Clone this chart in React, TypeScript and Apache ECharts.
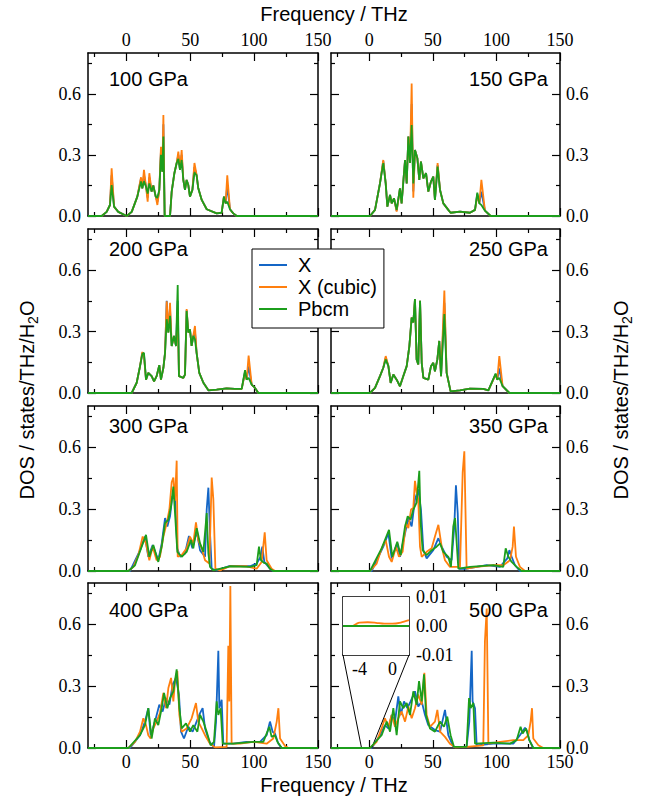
import React, { useEffect, useRef } from 'react';
import * as echarts from 'echarts';

// ---------------- data ----------------
// 100 GPa
const freq100 = [-30, -19.3, -15.4, -12.8, -11.5, -9.6, -6.3, 0.3, 4.2, 8.6, 11.5, 12.5, 13.8, 15.4, 16.7, 18, 19.8, 21.1, 23, 24.3, 25.8, 27.1, 28.2, 29, 30, 34.2, 35.5, 37.6, 39.4, 40.7, 42, 43.3, 44.6, 45.9, 47.2, 48.5, 49.8, 51.7, 53.3, 55, 56.3, 59, 62.9, 70.7, 74.6, 76.4, 77.7, 79, 81.1, 83.7, 86.4, 150];
const x100 = [0, 0, 0.02, 0.054, 0.2, 0.046, 0.02, 0, 0.02, 0.095, 0.185, 0.136, 0.2, 0.144, 0.09, 0.19, 0.12, 0.15, 0.095, 0.07, 0.128, 0.32, 0.218, 0.45, 0, 0, 0.12, 0.21, 0.26, 0.3, 0.226, 0.3, 0.177, 0.128, 0.177, 0.152, 0.095, 0.128, 0.24, 0.2, 0.136, 0.079, 0.033, 0.013, 0.016, 0.095, 0.062, 0.15, 0.033, 0.013, 0, 0];
const xc100 = [0, 0, 0.02, 0.054, 0.234, 0.046, 0.02, 0, 0.02, 0.095, 0.19, 0.136, 0.226, 0.144, 0.07, 0.21, 0.12, 0.15, 0.095, 0.054, 0.128, 0.34, 0.218, 0.496, 0, 0, 0.12, 0.21, 0.26, 0.316, 0.226, 0.324, 0.177, 0.128, 0.177, 0.152, 0.095, 0.128, 0.26, 0.2, 0.136, 0.079, 0.033, 0.013, 0.016, 0.095, 0.062, 0.2, 0.033, 0.013, 0, 0];
const pb100 = [0, 0, 0.02, 0.054, 0.152, 0.046, 0.02, 0, 0.02, 0.095, 0.17, 0.136, 0.17, 0.144, 0.11, 0.16, 0.12, 0.15, 0.095, 0.09, 0.128, 0.3, 0.218, 0.39, 0, 0, 0.12, 0.21, 0.26, 0.28, 0.226, 0.275, 0.177, 0.128, 0.177, 0.152, 0.095, 0.128, 0.213, 0.2, 0.136, 0.079, 0.033, 0.013, 0.016, 0.095, 0.062, 0.07, 0.033, 0.013, 0, 0];

// 150 GPa
const freq150 = [-30, 0.65, 4.6, 8.5, 11.1, 13, 14.3, 16.4, 17.7, 19.5, 21.6, 24.2, 25.5, 28.2, 29.5, 30.8, 32.1, 33.4, 34.7, 36, 37.9, 39.4, 40.7, 42.6, 44.7, 46.5, 48.6, 50.4, 51.7, 53.8, 55.7, 58.3, 62.2, 64, 71.4, 79.2, 83.2, 85, 86.6, 88.2, 91, 95.5, 150];
const x150 = [0, 0, 0.03, 0.16, 0.27, 0.16, 0.046, 0.103, 0.062, 0.087, 0.026, 0.136, 0.062, 0.275, 0.16, 0.39, 0.26, 0.55, 0.12, 0.324, 0.283, 0.177, 0.267, 0.185, 0.21, 0.12, 0.169, 0.193, 0.079, 0.25, 0.128, 0.062, 0.03, 0.016, 0.021, 0.016, 0.03, 0.108, 0.062, 0.12, 0.026, 0, 0];
const xc150 = [0, 0, 0.03, 0.16, 0.275, 0.16, 0.046, 0.103, 0.062, 0.087, 0.022, 0.136, 0.062, 0.275, 0.16, 0.39, 0.26, 0.65, 0.09, 0.324, 0.283, 0.177, 0.267, 0.185, 0.21, 0.12, 0.169, 0.193, 0.079, 0.26, 0.128, 0.062, 0.03, 0.016, 0.021, 0.016, 0.03, 0.1, 0.062, 0.177, 0.026, 0, 0];
const pb150 = [0, 0, 0.03, 0.16, 0.26, 0.16, 0.046, 0.103, 0.062, 0.087, 0.03, 0.136, 0.062, 0.275, 0.16, 0.39, 0.26, 0.447, 0.16, 0.324, 0.283, 0.177, 0.267, 0.185, 0.21, 0.12, 0.169, 0.193, 0.079, 0.242, 0.128, 0.062, 0.03, 0.016, 0.021, 0.016, 0.03, 0.115, 0.062, 0.054, 0.026, 0, 0];

// 200 GPa
const freq200 = [-30, 4.2, 8.1, 10.7, 12.5, 13.8, 15.4, 17.2, 19.8, 21.7, 23.7, 25.8, 27.1, 29, 30.3, 31.6, 32.9, 34.2, 35.5, 37.3, 38.9, 40.2, 41.2, 44.6, 45.9, 47.2, 48.5, 49.8, 51.1, 52.4, 53.7, 55, 57.1, 60.3, 64.2, 70.7, 78.5, 85, 90.3, 92.9, 94.2, 95.7, 98.1, 100.7, 103.3, 150];
const x200 = [0, 0, 0.05, 0.13, 0.195, 0.19, 0.065, 0.098, 0.082, 0.057, 0.082, 0.136, 0.065, 0.123, 0.196, 0.45, 0.295, 0.41, 0.229, 0.278, 0.229, 0.45, 0.082, 0.074, 0.09, 0.405, 0.295, 0.31, 0.23, 0.278, 0.3, 0.196, 0.098, 0.05, 0.013, 0.016, 0.023, 0.02, 0.02, 0.105, 0.065, 0.13, 0.041, 0.025, 0, 0];
const xc200 = [0, 0, 0.05, 0.13, 0.2, 0.18, 0.065, 0.098, 0.082, 0.057, 0.082, 0.136, 0.065, 0.123, 0.196, 0.447, 0.295, 0.44, 0.229, 0.278, 0.229, 0.39, 0.082, 0.074, 0.09, 0.41, 0.295, 0.31, 0.23, 0.278, 0.327, 0.196, 0.098, 0.05, 0.013, 0.016, 0.023, 0.02, 0.02, 0.1, 0.065, 0.183, 0.041, 0.025, 0, 0];
const pb200 = [0, 0, 0.05, 0.13, 0.19, 0.196, 0.065, 0.098, 0.082, 0.057, 0.082, 0.136, 0.065, 0.123, 0.196, 0.36, 0.295, 0.376, 0.229, 0.278, 0.229, 0.527, 0.082, 0.074, 0.09, 0.4, 0.295, 0.31, 0.23, 0.278, 0.262, 0.196, 0.098, 0.05, 0.013, 0.016, 0.023, 0.02, 0.02, 0.111, 0.065, 0.074, 0.041, 0.025, 0, 0];

// 250 GPa
const freq250 = [-30, 0.65, 4.6, 8.5, 11.1, 13, 15.1, 16.9, 19, 21.6, 24.2, 26.8, 29.5, 31.6, 33.4, 34.7, 36, 37.3, 38.6, 40, 41.3, 42.6, 46.5, 48.6, 50.4, 51.7, 53.6, 55.1, 56.5, 59.1, 60.9, 64, 71.4, 79.2, 89.7, 93.7, 99.4, 100.7, 102.3, 104.9, 110.2, 150];
const x250 = [0, 0, 0.025, 0.082, 0.123, 0.172, 0.131, 0.049, 0.09, 0.065, 0.033, 0.082, 0.131, 0.229, 0.368, 0.344, 0.458, 0.164, 0.139, 0.45, 0.147, 0.074, 0.065, 0.131, 0.147, 0.106, 0.164, 0.254, 0.082, 0.44, 0.098, 0.008, 0.013, 0.021, 0.02, 0.013, 0.092, 0.065, 0.12, 0.033, 0, 0];
const xc250 = [0, 0, 0.025, 0.082, 0.123, 0.18, 0.131, 0.049, 0.09, 0.065, 0.033, 0.082, 0.131, 0.229, 0.368, 0.344, 0.458, 0.164, 0.139, 0.45, 0.147, 0.074, 0.065, 0.131, 0.147, 0.106, 0.164, 0.254, 0.082, 0.5, 0.098, 0.008, 0.013, 0.021, 0.02, 0.013, 0.09, 0.065, 0.18, 0.033, 0, 0];
const pb250 = [0, 0, 0.025, 0.082, 0.123, 0.164, 0.131, 0.049, 0.09, 0.065, 0.033, 0.082, 0.131, 0.229, 0.368, 0.344, 0.458, 0.164, 0.139, 0.45, 0.147, 0.074, 0.065, 0.131, 0.147, 0.106, 0.164, 0.254, 0.082, 0.385, 0.098, 0.008, 0.013, 0.021, 0.02, 0.013, 0.095, 0.065, 0.074, 0.033, 0, 0];

// 300 GPa  [frequency, DOS]
const x300 = [[-30, 0], [2.9, 0], [10.7, 0.1], [14.6, 0.167], [17.2, 0.069], [20.6, 0.126], [25, 0.052], [27.7, 0.134], [30.3, 0.257], [32.1, 0.216], [34.2, 0.265], [36, 0.363], [38.1, 0.347], [39.9, 0.11], [42, 0.069], [45.9, 0.085], [49, 0.17], [51.7, 0.11], [55.1, 0.191], [57.7, 0.1], [61.6, 0.069], [62.9, 0.298], [64.2, 0.404], [65.5, 0.183], [66.8, 0.011], [70.7, 0.003], [81.1, 0.025], [96.8, 0.023], [102, 0.036], [105.1, 0.069], [106.4, 0.118], [108, 0.044], [112.4, 0.011], [115, 0], [150, 0]];
const xc300 = [[-30, 0], [1.6, 0], [5.5, 0.02], [9.4, 0.077], [12.8, 0.167], [15.4, 0.134], [18, 0.052], [20.6, 0.118], [23.7, 0.052], [26.3, 0.069], [29, 0.167], [31.6, 0.232], [33.7, 0.298], [35.5, 0.43], [36.8, 0.453], [38.1, 0.34], [39.4, 0.535], [40.2, 0.069], [43.3, 0.077], [47.2, 0.11], [49.8, 0.167], [52.4, 0.134], [54.5, 0.236], [56.3, 0.15], [59, 0.11], [61.6, 0.052], [65, 0.036], [66.8, 0.453], [68.1, 0.347], [69.7, 0.011], [73.3, 0.003], [81.1, 0.023], [94.2, 0.023], [102, 0.011], [105.9, 0.044], [108.3, 0.187], [109.8, 0.052], [113.7, 0.011], [116.4, 0], [150, 0]];
const pb300 = [[-30, 0], [1.6, 0], [6.8, 0.028], [12, 0.118], [15.4, 0.175], [18, 0.069], [21.1, 0.126], [25, 0.044], [27.7, 0.118], [30.3, 0.232], [32.9, 0.249], [35, 0.314], [36.8, 0.409], [38.1, 0.281], [39.9, 0.093], [43.3, 0.069], [47.2, 0.093], [50.6, 0.15], [52.4, 0.11], [55.1, 0.208], [57.7, 0.134], [60.3, 0.093], [62.9, 0.281], [64.2, 0.085], [65.5, 0.02], [68.1, 0.003], [81.1, 0.023], [96.8, 0.02], [102, 0.028], [103.8, 0.118], [105.4, 0.052], [107.7, 0.039], [109.8, 0.036], [112.4, 0.011], [115, 0], [150, 0]];

// 350 GPa
const x350 = [[-30, 0], [1.9, 0], [11.1, 0.118], [15.1, 0.183], [17.7, 0.061], [22.1, 0.134], [24.2, 0.069], [28.2, 0.183], [30.8, 0.257], [33.4, 0.216], [36, 0.347], [38.6, 0.396], [40.7, 0.298], [42.6, 0.101], [45.2, 0.061], [50.4, 0.101], [54.4, 0.159], [57, 0.118], [60.9, 0.069], [64.8, 0.052], [66.9, 0.216], [68.2, 0.416], [69.6, 0.281], [70.9, 0.011], [76.6, 0.011], [92.4, 0.028], [102.8, 0.02], [108.6, 0.061], [110.2, 0.101], [112, 0.069], [114.6, 0.028], [118.5, 0], [150, 0]];
const xc350 = [[-30, 0], [0.65, 0], [5.9, 0.036], [9.8, 0.11], [13, 0.15], [15.6, 0.069], [17.7, 0.044], [21.1, 0.118], [23.4, 0.069], [26.3, 0.093], [28.9, 0.232], [30.8, 0.208], [32.9, 0.298], [34.7, 0.306], [36, 0.437], [37.3, 0.38], [38.6, 0.347], [39.95, 0.118], [41.3, 0.069], [45.2, 0.093], [49.1, 0.11], [51.7, 0.167], [54.4, 0.224], [57, 0.118], [59.6, 0.052], [63.5, 0.02], [71.4, 0.02], [73.5, 0.478], [74.8, 0.58], [76.6, 0.011], [84.5, 0.02], [97.6, 0.028], [105.4, 0.028], [110.7, 0.052], [112.8, 0.118], [113.8, 0.216], [115.4, 0.069], [118.5, 0.02], [122.5, 0], [150, 0]];
const pb350 = [[-30, 0], [0.65, 0], [9.8, 0.11], [15.6, 0.2], [18.2, 0.069], [22.1, 0.142], [24.8, 0.077], [28.2, 0.216], [30.3, 0.265], [32.6, 0.249], [34.7, 0.298], [37.3, 0.331], [39.4, 0.486], [40.5, 0.232], [42, 0.101], [45.2, 0.077], [49.1, 0.101], [53, 0.118], [55.7, 0.134], [58.3, 0.093], [62.2, 0.069], [64.3, 0.02], [66.1, 0.216], [67.5, 0.257], [68.8, 0.134], [70.1, 0.011], [79.3, 0.02], [97.6, 0.028], [105.4, 0.02], [107.3, 0.11], [109.4, 0.069], [112, 0.044], [115.9, 0.02], [119.9, 0], [150, 0]];

// 400 GPa
const x400 = [[-30, 0], [2.9, 0], [10.7, 0.062], [14.6, 0.128], [17.2, 0.193], [19, 0.062], [22.4, 0.128], [25.8, 0.21], [28.4, 0.177], [31.1, 0.242], [33.7, 0.21], [36.3, 0.308], [38.9, 0.34], [41.2, 0.259], [42.8, 0.079], [45.1, 0.046], [48.5, 0.103], [51.9, 0.079], [55, 0.128], [57.7, 0.169], [59.7, 0.193], [61.6, 0.095], [65, 0.03], [68.6, 0.005], [70.2, 0.128], [72, 0.471], [72.8, 0.193], [74.6, 0.234], [75.9, 0.021], [83.7, 0.021], [94.2, 0.03], [104.6, 0.03], [109.8, 0.062], [112.4, 0.128], [114.5, 0.079], [116.3, 0.07], [119, 0.021], [121.6, 0], [150, 0]];
const xc400 = [[-30, 0], [1.6, 0], [6.8, 0.03], [10.7, 0.079], [13.3, 0.144], [15.4, 0.111], [17.2, 0.062], [19, 0.046], [21.1, 0.095], [23.7, 0.128], [26.3, 0.169], [29, 0.267], [31.1, 0.193], [32.9, 0.291], [35, 0.34], [36.8, 0.226], [38.1, 0.324], [39.9, 0.373], [41.5, 0.16], [43.3, 0.079], [47.2, 0.095], [51.1, 0.144], [54.5, 0.218], [56.3, 0.128], [59, 0.095], [61.6, 0.062], [65.5, 0.021], [69.4, 0.003], [78.5, 0.005], [79.8, 0.496], [80.6, 0.226], [81.4, 0.786], [82.4, 0.021], [89, 0.021], [99.4, 0.03], [109.8, 0.021], [115, 0.046], [117.7, 0.128], [119, 0.193], [120.3, 0.046], [124.2, 0.01], [126.8, 0], [150, 0]];
const pb400 = [[-30, 0], [1.6, 0], [10.7, 0.062], [14.6, 0.111], [17.2, 0.193], [19.8, 0.046], [22.4, 0.144], [25, 0.111], [27.7, 0.193], [29.5, 0.267], [32.1, 0.193], [34.2, 0.242], [36.8, 0.275], [39.4, 0.381], [41.5, 0.193], [43.3, 0.095], [46.7, 0.119], [49.8, 0.079], [52.4, 0.111], [55.6, 0.079], [57.7, 0.16], [60.3, 0.128], [62.9, 0.079], [66, 0.013], [68.6, 0.03], [70.7, 0.226], [72, 0.16], [73.8, 0.193], [75.4, 0.021], [83.7, 0.021], [99.4, 0.03], [107.2, 0.03], [110.4, 0.079], [111.9, 0.103], [113.7, 0.054], [116.3, 0.062], [118.2, 0.03], [121.6, 0], [150, 0]];

// 500 GPa
const x500 = [[-30, 0], [2, 0], [8.5, 0.062], [12.4, 0.111], [15.1, 0.095], [17.7, 0.16], [20.3, 0.128], [22.9, 0.25], [24.8, 0.16], [27.4, 0.226], [30, 0.193], [32.6, 0.226], [36, 0.275], [38.6, 0.201], [41.3, 0.226], [43.9, 0.16], [46.5, 0.111], [51.7, 0.087], [55.7, 0.079], [59.6, 0.185], [62.2, 0.062], [66.2, 0.005], [76.6, 0.005], [78.7, 0.128], [80.6, 0.471], [81.3, 0.226], [83.2, 0.193], [84.5, 0.013], [97.6, 0.021], [113.3, 0.021], [118.5, 0.062], [122.5, 0.098], [124.3, 0.079], [125.9, 0.038], [129, 0], [150, 0]];
const xc500 = [[-30, 0], [0.65, 0], [5.9, 0.03], [9.8, 0.095], [12.4, 0.144], [15.1, 0.103], [17.7, 0.16], [20.3, 0.103], [22.9, 0.144], [25.5, 0.177], [28.2, 0.128], [30.8, 0.201], [33.4, 0.144], [36, 0.193], [38.6, 0.259], [41.3, 0.21], [43.4, 0.365], [45.2, 0.16], [47.8, 0.103], [51.7, 0.128], [53.6, 0.185], [55.7, 0.079], [59.6, 0.054], [63.5, 0.021], [67.5, 0.003], [76.6, 0.005], [89.7, 0.013], [91, 0.52], [92.4, 0.676], [93.7, 0.021], [102.8, 0.03], [113.3, 0.038], [121.2, 0.038], [125.1, 0.062], [126.9, 0.128], [128, 0.193], [129, 0.046], [133, 0.013], [136.9, 0], [150, 0]];
const pb500 = [[-30, 0], [0.65, 0], [9.8, 0.062], [13.8, 0.128], [16.4, 0.079], [19, 0.193], [21.6, 0.062], [24.2, 0.226], [26.8, 0.193], [29.5, 0.218], [32.1, 0.16], [34.7, 0.275], [37.3, 0.21], [39.2, 0.324], [41.3, 0.226], [43.1, 0.357], [44.7, 0.16], [47.8, 0.095], [51.7, 0.079], [55.7, 0.128], [58.8, 0.103], [61.4, 0.152], [64, 0.062], [66.7, 0.005], [76.6, 0.005], [78.5, 0.242], [79.8, 0.193], [81.9, 0.218], [83.2, 0.021], [97.6, 0.026], [110.7, 0.021], [115.9, 0.038], [119, 0.103], [120.6, 0.07], [123.3, 0.095], [125.9, 0.038], [129, 0], [150, 0]];

// inset of 500 GPa (low-frequency zoom)
const insetFreq = [-6, -5, -4.75, -4.4, -4, -3, -2, -1, 0, 1, 2];
const insetX = [0, 0, 0, 0, 0, 0, 0, 0, 0, 0, 0];
const insetXc = [0, 0, 0.0001, 0.0007, 0.0012, 0.0013, 0.0011, 0.0008, 0.0008, 0.0012, 0.002];
const insetPb = [0, 0, 0, 0, 0, 0, 0, 0, 0, 0, 0];

const panelLabels = ['100 GPa', '150 GPa', '200 GPa', '250 GPa', '300 GPa', '350 GPa', '400 GPa', '500 GPa'];
const seriesNames = ['X', 'X (cubic)', 'Pbcm'];
const xMajorTicks = [0, 50, 100, 150];
const xMinorTicks = [-25, 25, 75, 125];
const yMajorTicks = [0, 0.3, 0.6];
const yMinorTicks = [0.15, 0.45, 0.75];
const insetXTicks = [-4, -2, 0];
const insetXLabels = [-4, 0];
const insetYTicks = [-0.005, 0, 0.005];
const insetYLabels = [-0.01, 0, 0.01];

// ---------------- helpers ----------------
const zip = (f: number[], v: number[]) => f.map((x, i) => [x, v[i] ?? 0]);

const panels = [
  [zip(freq100, x100), zip(freq100, xc100), zip(freq100, pb100)],
  [zip(freq150, x150), zip(freq150, xc150), zip(freq150, pb150)],
  [zip(freq200, x200), zip(freq200, xc200), zip(freq200, pb200)],
  [zip(freq250, x250), zip(freq250, xc250), zip(freq250, pb250)],
  [x300, xc300, pb300],
  [x350, xc350, pb350],
  [x400, xc400, pb400],
  [x500, xc500, pb500],
];

const COLORS = ['#1466c6', '#ff7f0e', '#1c9e1c'];
const SANS = "'Liberation Sans', Arial, Helvetica, sans-serif";
const SERIF = "'Liberation Serif', 'Times New Roman', serif";

const COL_LEFT = [88, 331];
const COL_W = [230, 229];
const ROW_TOP = [53, 229, 406, 583];
const ROW_H = [163, 164, 165, 165];
const LABEL_Y = [79, 249, 426, 610];

function axis(gridIndex: number, position: string, min: number, max: number,
  ticks: number[], len: number, labels: number[] | null, line: boolean, fmt: (v: number) => string, margin: number) {
  return {
    type: 'value', gridIndex, position, min, max,
    axisLine: { show: line, onZero: false, lineStyle: { color: '#000', width: 1.5 } },
    axisTick: { show: true, inside: true, length: len, customValues: ticks, lineStyle: { color: '#000', width: 1.2 } },
    axisLabel: labels ? {
      show: true, customValues: labels, margin, color: '#000', fontFamily: SERIF, fontSize: 18,
      formatter: (v: number) => fmt(v), showMinLabel: true, showMaxLabel: true,
    } : { show: false },
    splitLine: { show: false },
    minorTick: { show: false },
  };
}

export default function App() {
  const ref = useRef<HTMLDivElement>(null);
  useEffect(() => {
    if (!ref.current) return;
    const chart = echarts.init(ref.current, null, { renderer: 'svg' });
    const grids: any[] = [];
    const xAxes: any[] = [];
    const yAxes: any[] = [];
    const series: any[] = [];
    const fx = (v: number) => String(v);
    const fy = (v: number) => v.toFixed(1);
    panels.forEach((p, i) => {
      const col = i % 2;
      const row = Math.floor(i / 2);
      grids.push({ left: COL_LEFT[col], top: ROW_TOP[row], width: COL_W[col], height: ROW_H[row], show: false });
      xAxes.push(axis(i, 'bottom', -30, 150, xMajorTicks, 8, row === 3 ? xMajorTicks : null, true, fx, 5));
      xAxes.push(axis(i, 'bottom', -30, 150, xMinorTicks, 4, null, false, fx, 5));
      xAxes.push(axis(i, 'top', -30, 150, xMajorTicks, 8, row === 0 ? xMajorTicks : null, true, fx, 4));
      xAxes.push(axis(i, 'top', -30, 150, xMinorTicks, 4, null, false, fx, 4));
      yAxes.push(axis(i, 'left', 0, 0.8, yMajorTicks, 8, col === 0 ? yMajorTicks : null, true, fy, 7));
      yAxes.push(axis(i, 'left', 0, 0.8, yMinorTicks, 4, null, false, fy, 7));
      yAxes.push(axis(i, 'right', 0, 0.8, yMajorTicks, 8, col === 1 ? yMajorTicks : null, true, fy, 6));
      yAxes.push(axis(i, 'right', 0, 0.8, yMinorTicks, 4, null, false, fy, 6));
      p.forEach((d, k) => {
        series.push({
          type: 'line', name: seriesNames[k], xAxisIndex: 4 * i, yAxisIndex: 4 * i, data: d,
          symbol: 'none', showSymbol: false, lineStyle: { color: COLORS[k], width: 1.8 }, itemStyle: { color: COLORS[k] },
          z: 2 + k,
        });
      });
    });
    // inset grid
    const gi = 8;
    grids.push({ left: 343, top: 597, width: 66, height: 58, show: true, backgroundColor: '#fff', borderWidth: 0, z: 5 });
    const ax0 = xAxes.length;
    const ay0 = yAxes.length;
    const fi = (v: number) => v.toFixed(2);
    xAxes.push(axis(gi, 'bottom', -6, 2, insetXTicks, 5, insetXLabels, true, fx, 5));
    xAxes.push(axis(gi, 'top', -6, 2, insetXTicks, 5, null, true, fx, 5));
    yAxes.push(axis(gi, 'left', -0.01, 0.01, insetYTicks, 5, null, true, fi, 5));
    yAxes.push(axis(gi, 'right', -0.01, 0.01, insetYTicks, 5, insetYLabels, true, fi, 7));
    const insetData = [zip(insetFreq, insetX), zip(insetFreq, insetXc), zip(insetFreq, insetPb)];
    const insetSeriesStart = series.length;
    insetData.forEach((d, k) => {
      series.push({
        type: 'line', name: seriesNames[k], xAxisIndex: ax0, yAxisIndex: ay0, data: d, smooth: 0.3,
        symbol: 'none', showSymbol: false, lineStyle: { color: COLORS[k], width: 1.8 }, itemStyle: { color: COLORS[k] },
        z: 6 + k,
      });
    });

    const yTitleRich = {
      a: { fontSize: 20, fontFamily: SANS, fill: '#000', lineHeight: 26 },
      s: { fontSize: 14, fontFamily: SANS, fill: '#000', lineHeight: 14, verticalAlign: 'bottom' },
    };
    const graphics: any[] = [
      { type: 'text', x: 334, y: 14, style: { text: 'Frequency / THz', fontFamily: SANS, fontSize: 20, fill: '#000', align: 'center', verticalAlign: 'middle' } },
      { type: 'text', x: 334, y: 785, style: { text: 'Frequency / THz', fontFamily: SANS, fontSize: 20, fill: '#000', align: 'center', verticalAlign: 'middle' } },
      { type: 'text', x: 27, y: 400, rotation: Math.PI / 2, style: { text: '{a|DOS / states/THz/H}{s|2}{a|O}', rich: yTitleRich, align: 'center', verticalAlign: 'middle' } },
      { type: 'text', x: 621, y: 400, rotation: Math.PI / 2, style: { text: '{a|DOS / states/THz/H}{s|2}{a|O}', rich: yTitleRich, align: 'center', verticalAlign: 'middle' } },
    ];
    panelLabels.forEach((t, i) => {
      const col = i % 2;
      const row = Math.floor(i / 2);
      graphics.push({
        type: 'text', x: col === 0 ? 109 : 548, y: LABEL_Y[row], z: 10,
        style: { text: t, fontFamily: SANS, fontSize: 20, fill: '#000', align: col === 0 ? 'left' : 'right', verticalAlign: 'middle' },
      });
    });

    chart.setOption({
      animation: false,
      backgroundColor: '#fff',
      grid: grids,
      xAxis: xAxes,
      yAxis: yAxes,
      series,
      legend: {
        show: true, orient: 'vertical', left: 252, top: 249,
        data: seriesNames.map((n) => ({ name: n, icon: 'rect' })), selectedMode: false,
        itemWidth: 28, itemHeight: 2, itemGap: 0, padding: [5, 7, 8, 7],
        borderColor: '#000', borderWidth: 1, backgroundColor: '#fff', z: 20,
        textStyle: { fontFamily: SANS, fontSize: 20, color: '#000', lineHeight: 22, padding: [0, 0, 0, 6] },
      },
      graphic: graphics,
    });

    // connector lines from inset corners to the zoomed frequency window
    const mainSeries = 7 * 3 + 2;
    const pMainL = chart.convertToPixel({ seriesIndex: mainSeries }, [-6, 0]) as number[];
    const pMainR = chart.convertToPixel({ seriesIndex: mainSeries }, [2, 0]) as number[];
    const pInL = chart.convertToPixel({ seriesIndex: insetSeriesStart }, [-6, -0.01]) as number[];
    const pInR = chart.convertToPixel({ seriesIndex: insetSeriesStart }, [2, -0.01]) as number[];
    chart.setOption({
      graphic: [
        { id: 'connL', type: 'line', z: 4, shape: { x1: pInL[0], y1: pInL[1], x2: pMainL[0], y2: pMainL[1] }, style: { stroke: '#000', lineWidth: 1 } },
        { id: 'connR', type: 'line', z: 4, shape: { x1: pInR[0], y1: pInR[1], x2: pMainR[0], y2: pMainR[1] }, style: { stroke: '#000', lineWidth: 1 } },
      ],
    });

    return () => chart.dispose();
  }, []);
  return <div ref={ref} style={{ position: 'absolute', left: 0, top: 0, width: 665, height: 805 }} />;
}
